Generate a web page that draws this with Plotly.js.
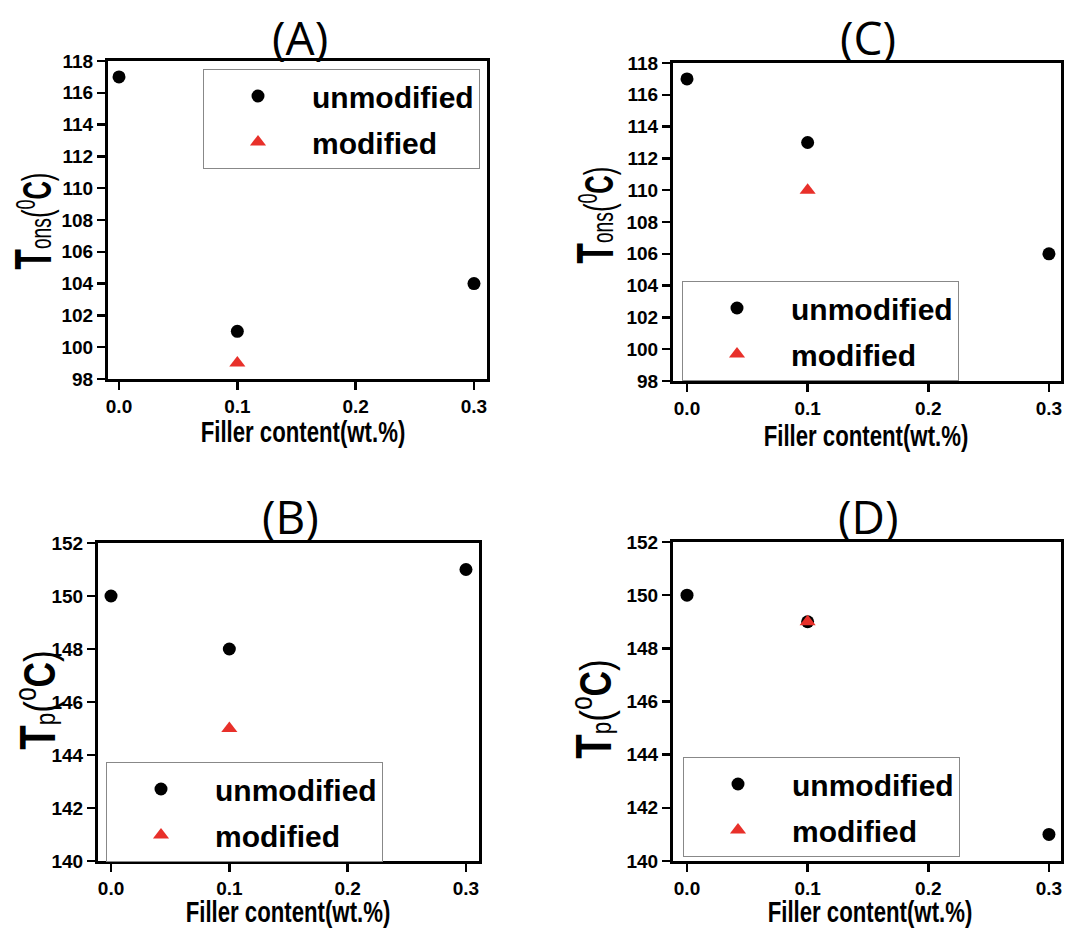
<!DOCTYPE html>
<html>
<head>
<meta charset="utf-8">
<script src="https://cdn.plot.ly/plotly-3.0.1.min.js"></script>
<style>html,body{margin:0;padding:0;background:#fff;}#chart{width:1069px;height:928px;}</style>
</head>
<body>
<div id="chart"></div>
<script>
// ---- data ----
const fillerContent = [0.0, 0.1, 0.3];
const modifiedX = [0.1];

const unmodA = [117, 101, 104];
const modA = [99];
const unmodC = [117, 113, 106];
const modC = [110];
const unmodB = [150, 148, 151];
const modB = [145];
const unmodD = [150, 149, 141];
const modD = [149];

const xTickVals = [0.0, 0.1, 0.2, 0.3];
const xTickLabels = ['0.0', '0.1', '0.2', '0.3'];
const yTickValsOns = [98, 100, 102, 104, 106, 108, 110, 112, 114, 116, 118];
const yTickValsP = [140, 142, 144, 146, 148, 150, 152];

const panelTitles = ['(A)', '(B)', '(C)', '(D)'];
const seriesNames = ['unmodified', 'modified'];
const xTitle = 'Filler content(wt.%)';
const yTitleOns = '<b><span style="font-size:52px">T</span></b><span style="font-size:30px">ons</span>(<sup>0</sup><b>C</b>)';
const yTitleP = '<b><span style="font-size:50px">T</span></b><span style="font-size:28px">p</span>(<sup>o</sup><b>C</b>)';

// ---- styling ----
const W = 1069, H = 928;
const RED = '#e8302a';
const SANS = 'Liberation Sans, Arial, sans-serif';
const tickFont = {family: SANS, size: 19, color: '#000', weight: 'bold'};

function px(x0, x1) { return [x0 / W, x1 / W]; }
function py(top, bottom) { return [1 - bottom / H, 1 - top / H]; }
function bold(arr) { return arr.map(function (s) { return '<b>' + s + '</b>'; }); }

function xaxis(dom, rng, anchor) {
  return {
    domain: dom, range: rng, anchor: anchor,
    showline: true, mirror: true, linewidth: 3, linecolor: '#000',
    ticks: 'outside', ticklen: 8, tickwidth: 2.5, tickcolor: '#000',
    tickmode: 'array', tickvals: xTickVals, ticktext: bold(xTickLabels),
    showgrid: false, zeroline: false, tickfont: tickFont,
    title: {text: '<b>' + xTitle + '</b>', font: {family: SANS, size: 30, color: '#000'}, standoff: 4}
  };
}
function yaxis(dom, rng, anchor, title, vals, size) {
  return {
    domain: dom, range: rng, anchor: anchor,
    showline: true, mirror: true, linewidth: 3, linecolor: '#000',
    ticks: 'outside', ticklen: 8, tickwidth: 2.5, tickcolor: '#000',
    tickmode: 'array', tickvals: vals, ticktext: bold(vals.map(String)),
    showgrid: false, zeroline: false, tickfont: tickFont,
    title: {text: title, font: {family: SANS, size: size, color: '#000'}, standoff: 14}
  };
}
function legendBox(x, topPx) {
  return {
    x: x / W, y: 1 - topPx / H, xanchor: 'left', yanchor: 'top',
    bgcolor: '#fff', bordercolor: '#888', borderwidth: 1,
    font: {family: SANS, size: 30, color: '#000', weight: 'bold'},
    itemwidth: 98, tracegroupgap: 4
  };
}

function pair(xa, ya, unmod, mod, legendId, suffix) {
  return [
    {x: fillerContent, y: unmod, xaxis: xa, yaxis: ya, type: 'scatter', mode: 'markers',
     name: seriesNames[0], legend: legendId, legendgroup: 'u' + suffix, showlegend: true,
     marker: {symbol: 'circle', size: 13, color: '#000'}},
    {x: modifiedX, y: mod, xaxis: xa, yaxis: ya, type: 'scatter', mode: 'markers',
     name: seriesNames[1], legend: legendId, legendgroup: 'm' + suffix, showlegend: true,
     marker: {symbol: 'triangle-up', size: 14, color: RED}}
  ];
}

const data = [].concat(
  pair('x', 'y', unmodA, modA, 'legend', 'A'),
  pair('x2', 'y2', unmodB, modB, 'legend2', 'B'),
  pair('x3', 'y3', unmodC, modC, 'legend3', 'C'),
  pair('x4', 'y4', unmodD, modD, 'legend4', 'D')
);

const titleFont = {family: 'Open Sans, Noto Sans, sans-serif', size: 46, color: '#000'};
function panelTitle(text, xc, yc) {
  return {text: text, x: xc / W, y: 1 - yc / H, xref: 'paper', yref: 'paper',
          xanchor: 'center', yanchor: 'middle', showarrow: false, font: titleFont};
}

const layout = {
  width: W, height: H,
  margin: {l: 0, r: 0, t: 0, b: 0},
  paper_bgcolor: '#fff', plot_bgcolor: '#fff',
  showlegend: true,
  xaxis:  xaxis(px(108, 487), [-0.0093, 0.311], 'y'),
  yaxis:  yaxis(py(61, 379), [98, 118], 'x', yTitleOns, yTickValsOns, 40),
  xaxis2: xaxis(px(98, 479), [-0.011, 0.311], 'y2'),
  yaxis2: yaxis(py(543, 861), [140, 152], 'x2', yTitleP, yTickValsP, 44),
  xaxis3: xaxis(px(673, 1061), [-0.0116, 0.31], 'y3'),
  yaxis3: yaxis(py(63, 381), [98, 118], 'x3', yTitleOns, yTickValsOns, 40),
  xaxis4: xaxis(px(673, 1061), [-0.0116, 0.31], 'y4'),
  yaxis4: yaxis(py(542, 861), [140, 152], 'x4', yTitleP, yTickValsP, 44),
  legend:  legendBox(203, 69),
  legend2: legendBox(106, 762),
  legend3: legendBox(682, 281),
  legend4: legendBox(683, 757),
  annotations: [
    panelTitle(panelTitles[0], 300, 37),
    panelTitle(panelTitles[1], 290, 516),
    panelTitle(panelTitles[2], 868, 37),
    panelTitle(panelTitles[3], 868, 516)
  ]
};

// The reference axis titles use a very narrow face: condense them along the text
// direction and centre them where the reference shows them.
function fitTitle(sel, sx, cx, cy) {
  var t = document.querySelector(sel);
  if (!t) return;
  var x = parseFloat(t.getAttribute('x')) || 0;
  var y = parseFloat(t.getAttribute('y')) || 0;
  var tr = t.getAttribute('transform') || '';
  tr = tr + ' translate(' + x + ',' + y + ') scale(' + sx + ',1) translate(' + (-x) + ',' + (-y) + ')';
  t.setAttribute('transform', tr);
  var r = t.getBoundingClientRect();
  var dx = cx - (r.left + r.width / 2);
  var dy = cy - (r.top + r.height / 2);
  t.setAttribute('transform', 'translate(' + dx + ',' + dy + ') ' + tr);
}

Plotly.newPlot('chart', data, layout, {displayModeBar: false, staticPlot: true}).then(function () {
  fitTitle('.xtitle', 0.74, 303, 432);
  fitTitle('.x3title', 0.74, 866, 436);
  fitTitle('.x2title', 0.74, 288, 912);
  fitTitle('.x4title', 0.74, 870, 912);
  fitTitle('.ytitle', 0.64, 33, 221);
  fitTitle('.y3title', 0.64, 595, 215);
  fitTitle('.y2title', 0.8, 37, 700);
  fitTitle('.y4title', 0.8, 593, 709);
});
</script>
</body>
</html>
